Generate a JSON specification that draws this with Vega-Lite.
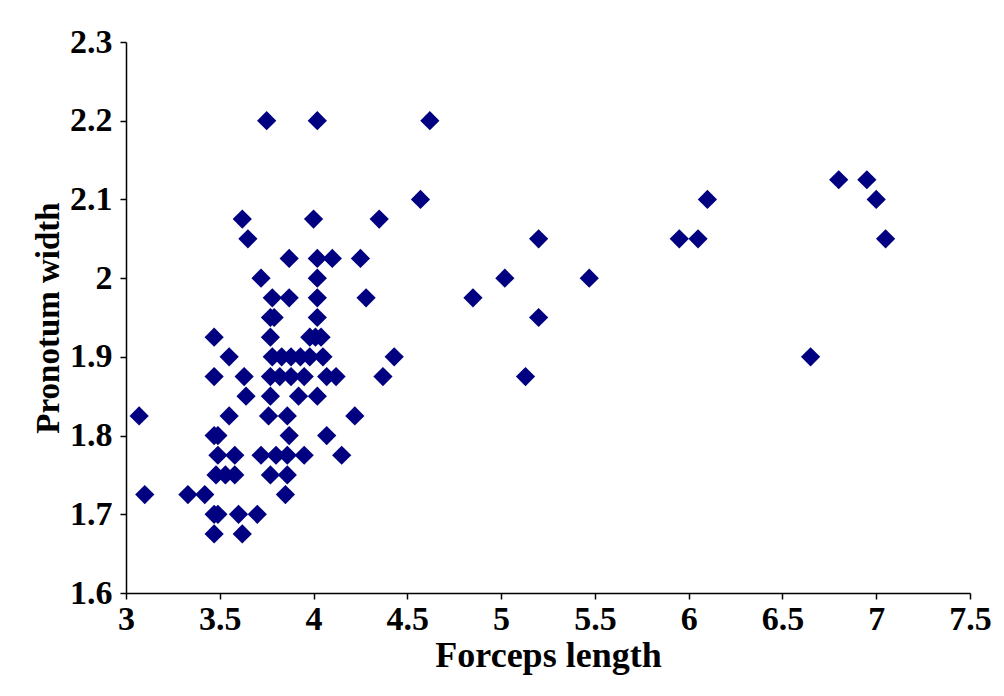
{
  "$schema": "https://vega.github.io/schema/vega-lite/v6.json",
  "width": 844,
  "height": 551,
  "autosize": "none",
  "padding": {"left": 126, "top": 42, "right": 34, "bottom": 103},
  "background": "white",
  "config": {"view": {"stroke": null}},
  "data": {"values": [
    {"forceps": 3.07, "pronotum": 1.825},
    {"forceps": 3.1, "pronotum": 1.725},
    {"forceps": 3.33, "pronotum": 1.725},
    {"forceps": 3.42, "pronotum": 1.725},
    {"forceps": 3.47, "pronotum": 1.925},
    {"forceps": 3.47, "pronotum": 1.875},
    {"forceps": 3.47, "pronotum": 1.8},
    {"forceps": 3.49, "pronotum": 1.8},
    {"forceps": 3.49, "pronotum": 1.775},
    {"forceps": 3.58, "pronotum": 1.775},
    {"forceps": 3.48, "pronotum": 1.75},
    {"forceps": 3.53, "pronotum": 1.75},
    {"forceps": 3.58, "pronotum": 1.75},
    {"forceps": 3.47, "pronotum": 1.7},
    {"forceps": 3.49, "pronotum": 1.7},
    {"forceps": 3.6, "pronotum": 1.7},
    {"forceps": 3.7, "pronotum": 1.7},
    {"forceps": 3.47, "pronotum": 1.675},
    {"forceps": 3.62, "pronotum": 1.675},
    {"forceps": 3.55, "pronotum": 1.9},
    {"forceps": 3.55, "pronotum": 1.825},
    {"forceps": 3.63, "pronotum": 1.875},
    {"forceps": 3.64, "pronotum": 1.85},
    {"forceps": 3.62, "pronotum": 2.075},
    {"forceps": 3.65, "pronotum": 2.05},
    {"forceps": 3.72, "pronotum": 2.0},
    {"forceps": 3.75, "pronotum": 2.2},
    {"forceps": 3.78, "pronotum": 1.975},
    {"forceps": 3.87, "pronotum": 1.975},
    {"forceps": 3.77, "pronotum": 1.95},
    {"forceps": 3.79, "pronotum": 1.95},
    {"forceps": 3.77, "pronotum": 1.925},
    {"forceps": 3.78, "pronotum": 1.9},
    {"forceps": 3.83, "pronotum": 1.9},
    {"forceps": 3.88, "pronotum": 1.9},
    {"forceps": 3.93, "pronotum": 1.9},
    {"forceps": 3.98, "pronotum": 1.9},
    {"forceps": 4.05, "pronotum": 1.9},
    {"forceps": 3.77, "pronotum": 1.875},
    {"forceps": 3.82, "pronotum": 1.875},
    {"forceps": 3.88, "pronotum": 1.875},
    {"forceps": 3.95, "pronotum": 1.875},
    {"forceps": 4.07, "pronotum": 1.875},
    {"forceps": 4.12, "pronotum": 1.875},
    {"forceps": 3.77, "pronotum": 1.85},
    {"forceps": 3.92, "pronotum": 1.85},
    {"forceps": 4.02, "pronotum": 1.85},
    {"forceps": 3.76, "pronotum": 1.825},
    {"forceps": 3.86, "pronotum": 1.825},
    {"forceps": 3.87, "pronotum": 1.8},
    {"forceps": 3.72, "pronotum": 1.775},
    {"forceps": 3.8, "pronotum": 1.775},
    {"forceps": 3.86, "pronotum": 1.775},
    {"forceps": 3.95, "pronotum": 1.775},
    {"forceps": 3.77, "pronotum": 1.75},
    {"forceps": 3.86, "pronotum": 1.75},
    {"forceps": 3.85, "pronotum": 1.725},
    {"forceps": 3.87, "pronotum": 2.025},
    {"forceps": 4.02, "pronotum": 2.025},
    {"forceps": 4.1, "pronotum": 2.025},
    {"forceps": 4.25, "pronotum": 2.025},
    {"forceps": 4.02, "pronotum": 2.2},
    {"forceps": 4.0, "pronotum": 2.075},
    {"forceps": 4.02, "pronotum": 2.0},
    {"forceps": 4.02, "pronotum": 1.975},
    {"forceps": 4.02, "pronotum": 1.95},
    {"forceps": 3.98, "pronotum": 1.925},
    {"forceps": 4.01, "pronotum": 1.925},
    {"forceps": 4.04, "pronotum": 1.925},
    {"forceps": 4.07, "pronotum": 1.8},
    {"forceps": 4.15, "pronotum": 1.775},
    {"forceps": 4.22, "pronotum": 1.825},
    {"forceps": 4.28, "pronotum": 1.975},
    {"forceps": 4.35, "pronotum": 2.075},
    {"forceps": 4.37, "pronotum": 1.875},
    {"forceps": 4.43, "pronotum": 1.9},
    {"forceps": 4.57, "pronotum": 2.1},
    {"forceps": 4.62, "pronotum": 2.2},
    {"forceps": 4.85, "pronotum": 1.975},
    {"forceps": 5.02, "pronotum": 2.0},
    {"forceps": 5.13, "pronotum": 1.875},
    {"forceps": 5.2, "pronotum": 2.05},
    {"forceps": 5.2, "pronotum": 1.95},
    {"forceps": 5.47, "pronotum": 2.0},
    {"forceps": 5.95, "pronotum": 2.05},
    {"forceps": 6.05, "pronotum": 2.05},
    {"forceps": 6.1, "pronotum": 2.1},
    {"forceps": 6.65, "pronotum": 1.9},
    {"forceps": 6.8, "pronotum": 2.125},
    {"forceps": 6.95, "pronotum": 2.125},
    {"forceps": 7.0, "pronotum": 2.1},
    {"forceps": 7.05, "pronotum": 2.05}
  ]},
  "mark": {"type": "point", "shape": "diamond", "filled": true, "size": 370, "color": "#000080", "opacity": 1},
  "encoding": {
    "x": {
      "field": "forceps", "type": "quantitative",
      "scale": {"domain": [3, 7.5], "nice": false, "zero": false},
      "axis": {
        "title": "Forceps length",
        "values": [3, 3.5, 4, 4.5, 5, 5.5, 6, 6.5, 7, 7.5],
        "format": "~g",
        "grid": false,
        "domainColor": "black", "domainWidth": 1.5,
        "tickColor": "black", "tickWidth": 1.5, "tickSize": 6,
        "labelFont": "Liberation Serif", "labelFontWeight": "bold", "labelFontSize": 34, "labelColor": "black",
        "labelPadding": 3, "labelFlush": false, "labelOverlap": false,
        "titleFont": "Liberation Serif", "titleFontWeight": "bold", "titleFontSize": 36, "titleColor": "black",
        "titlePadding": 2
      }
    },
    "y": {
      "field": "pronotum", "type": "quantitative",
      "scale": {"domain": [1.6, 2.3], "nice": false, "zero": false},
      "axis": {
        "title": "Pronotum width",
        "values": [1.6, 1.7, 1.8, 1.9, 2, 2.1, 2.2, 2.3],
        "format": "~g",
        "grid": false,
        "domainColor": "black", "domainWidth": 1.5,
        "tickColor": "black", "tickWidth": 1.5, "tickSize": 6,
        "labelFont": "Liberation Serif", "labelFontWeight": "bold", "labelFontSize": 34, "labelColor": "black",
        "labelPadding": 8, "labelFlush": false, "labelOverlap": false,
        "titleFont": "Liberation Serif", "titleFontWeight": "bold", "titleFontSize": 33, "titleColor": "black",
        "titlePadding": 4
      }
    }
  }
}
